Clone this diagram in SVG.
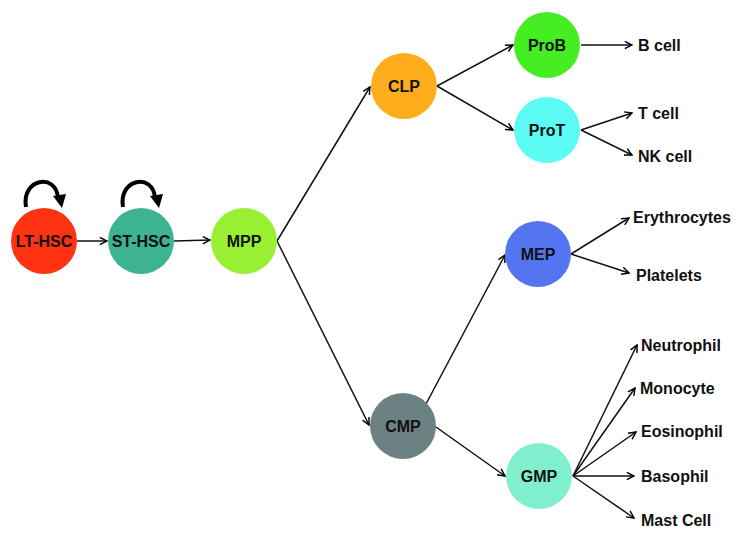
<svg xmlns="http://www.w3.org/2000/svg" width="743" height="536" viewBox="0 0 743 536">
<defs>
<marker id="arr" viewBox="0 0 10 10" refX="9" refY="5" markerWidth="9" markerHeight="9" markerUnits="userSpaceOnUse" orient="auto">
<path d="M1,1 L9,5 L1,9" fill="none" stroke="#000" stroke-width="1.6"/>
</marker>
</defs>
<style>
.n text{font-family:"Liberation Sans",Arial,sans-serif;font-weight:bold;font-size:16px;fill:#111;text-anchor:middle;dominant-baseline:central}
.lbl{font-family:"Liberation Sans",Arial,sans-serif;font-weight:bold;font-size:16px;fill:#111;dominant-baseline:central}
.c line{stroke:#111;stroke-width:1.5;marker-end:url(#arr)}
.loop{fill:none;stroke:#000;stroke-width:4}
</style>
<rect width="743" height="536" fill="#fff"/>
<g id="connectors" class="c">
<line x1="77" y1="241" x2="107" y2="241"/>
<line x1="174" y1="241" x2="210" y2="240"/>
<line x1="277" y1="241" x2="370" y2="87"/>
<line x1="277" y1="241" x2="369" y2="425"/>
<line x1="437" y1="86" x2="513" y2="45"/>
<line x1="437" y1="86" x2="513" y2="130"/>
<line x1="581" y1="45" x2="632" y2="45"/>
<line x1="581" y1="130" x2="632" y2="113"/>
<line x1="581" y1="130" x2="632" y2="155"/>
<line x1="426" y1="404" x2="505" y2="255"/>
<line x1="436" y1="427" x2="505" y2="476"/>
<line x1="571" y1="254" x2="629" y2="218"/>
<line x1="571" y1="254" x2="629" y2="273"/>
<line x1="573" y1="476" x2="637" y2="345"/>
<line x1="573" y1="476" x2="635" y2="388"/>
<line x1="573" y1="476" x2="636" y2="432"/>
<line x1="573" y1="476" x2="634" y2="476"/>
<line x1="573" y1="476" x2="634" y2="518"/>
<path class="loop" d="M26,207 C21,179 56,172 58,198"/>
<polygon points="53,196 66,194 62,208"/>
<path class="loop" d="M123,207 C118,179 153,172 155,198"/>
<polygon points="150,196 163,194 159,208"/>
</g>
<g id="LT-HSC" class="n"><circle cx="44" cy="241" r="33" fill="#FF3212"/><text x="44" y="241">LT-HSC</text></g>
<g id="ST-HSC" class="n"><circle cx="141" cy="241" r="33" fill="#3DB392"/><text x="141" y="241">ST-HSC</text></g>
<g id="MPP" class="n"><circle cx="244" cy="241" r="33" fill="#99F033"/><text x="244" y="241">MPP</text></g>
<g id="CLP" class="n"><circle cx="404" cy="86" r="33" fill="#FFAD1C"/><text x="404" y="86">CLP</text></g>
<g id="ProB" class="n"><circle cx="547" cy="45" r="33" fill="#44EE22"/><text x="547" y="45">ProB</text></g>
<g id="ProT" class="n"><circle cx="547" cy="130" r="33" fill="#5CFCF4"/><text x="547" y="130">ProT</text></g>
<g id="CMP" class="n"><circle cx="403" cy="426" r="33" fill="#6C8282"/><text x="403" y="426">CMP</text></g>
<g id="MEP" class="n"><circle cx="538" cy="254" r="33" fill="#5575F0"/><text x="538" y="254">MEP</text></g>
<g id="GMP" class="n"><circle cx="539" cy="476" r="33" fill="#80EFCE"/><text x="539" y="476">GMP</text></g>
<g id="labels">
<text class="lbl" x="638" y="45">B cell</text>
<text class="lbl" x="638" y="113">T cell</text>
<text class="lbl" x="638" y="156">NK cell</text>
<text class="lbl" x="633" y="217">Erythrocytes</text>
<text class="lbl" x="636" y="275">Platelets</text>
<text class="lbl" x="641" y="345">Neutrophil</text>
<text class="lbl" x="640" y="388">Monocyte</text>
<text class="lbl" x="641" y="431">Eosinophil</text>
<text class="lbl" x="641" y="476">Basophil</text>
<text class="lbl" x="641" y="520">Mast Cell</text>
</g>
</svg>
